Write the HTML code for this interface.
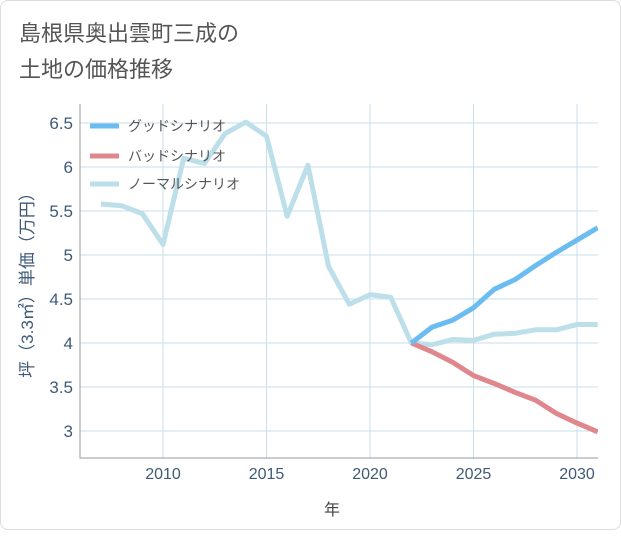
<!DOCTYPE html>
<html><head><meta charset="utf-8"><style>
body{margin:0;background:#fff;font-family:"Liberation Sans","Noto Sans CJK JP",sans-serif}
#card{position:absolute;left:0;top:0;width:619px;height:528px;border:1px solid #ddd;border-radius:8px;background:#fff}
</style></head><body>
<div id="card">
<svg id="chart" width="621" height="530">
<text x="18" y="40" font-size="22" fill="#555">島根県奥出雲町三成の</text>
<text x="18" y="76" font-size="22" fill="#555">土地の価格推移</text>
<g id="grid"></g><g id="series"></g><g id="legend"></g>
<text x="331" y="514" font-size="16" fill="#444" text-anchor="middle">年</text>
<text transform="translate(32,280) rotate(-90)" font-size="17" fill="#3f5a78" text-anchor="middle">坪（3.3㎡）単価（万円）</text>
</svg></div>
<script>
const years=[2007,2008,2009,2010,2011,2012,2013,2014,2015,2016,2017,2018,2019,2020,2021,2022,2023,2024,2025,2026,2027,2028,2029,2030,2031];
const normal=[5.58,5.56,5.47,5.12,6.1,6.04,6.38,6.51,6.35,5.44,6.02,4.87,4.44,4.55,4.52,4.0,3.98,4.04,4.03,4.1,4.11,4.15,4.15,4.21,4.21];
const futureYears=[2022,2023,2024,2025,2026,2027,2028,2029,2030,2031];
const good=[4.0,4.18,4.26,4.4,4.61,4.72,4.88,5.03,5.17,5.31];
const bad=[4.0,3.9,3.78,3.63,3.54,3.44,3.35,3.2,3.09,2.99];
const xTicks=[2010,2015,2020,2025,2030];
const yTicks=[3,3.5,4,4.5,5,5.5,6,6.5];
const yLabels=["3","3.5","4","4.5","5","5.5","6","6.5"];
const NS="http://www.w3.org/2000/svg";
const L=79,R=597,T=103,B=457;
const X=v=>162+(v-2010)*20.7;
const Y=v=>430-(v-3)*88;
function mk(tag,attrs,parent,txt){const e=document.createElementNS(NS,tag);for(const k in attrs)e.setAttribute(k,attrs[k]);if(txt!==undefined)e.textContent=txt;parent.appendChild(e);return e;}
const g=document.getElementById('grid');
xTicks.forEach(t=>{
 const l=mk('line',{x1:X(t),x2:X(t),y1:T,y2:B,stroke:'#c9dfeb','stroke-width':1},g);
 
 
 const tx=mk('text',{x:X(t),y:478,'font-size':16,fill:'#3f5a78','text-anchor':'middle'},g,String(t));
 
 
});
yTicks.forEach((t,i)=>{
 const l=mk('line',{x1:L,x2:R,y1:Y(t),y2:Y(t),stroke:'#c9dfeb','stroke-width':1},g);
 
 
 const tx=mk('text',{x:72,y:Y(t)+6,'font-size':17,fill:'#3f5a78','text-anchor':'end'},g,yLabels[i]);
 
 
});
const ax=mk('path',{d:`M${L},${T}V${B}H${R}`,fill:'none',stroke:'#999','stroke-width':1},g);


const s=document.getElementById('series');
function line(xs,ys,color,name){
 const p=mk('polyline',{points:xs.map((x,i)=>X(x)+','+Y(ys[i])).join(' '),fill:'none',stroke:color,'stroke-width':5,'stroke-linejoin':'round'},s);
 
 
}
const clip=mk('clipPath',{id:'c'},document.getElementById('chart'));
mk('rect',{x:L,y:T,width:R-L,height:B-T},clip);
s.setAttribute('clip-path','url(#c)');
line(years,normal,'#bcdfea','normal-scenario-line');
line(futureYears,bad,'#e0878e','bad-scenario-line');
line(futureYears,good,'#6bbcf0','good-scenario-line');
const lg=document.getElementById('legend');
[['グッドシナリオ','#6bbcf0',125,'legend-good'],['バッドシナリオ','#e0878e',155,'legend-bad'],['ノーマルシナリオ','#bcdfea',183,'legend-normal']].forEach(e=>{
 const gg=mk('g',{},lg);
 
 
 mk('line',{x1:89,x2:118,y1:e[2],y2:e[2],stroke:e[1],'stroke-width':5},gg);
 mk('text',{x:127,y:e[2]+5,'font-size':14,fill:'#555'},gg,e[0]);
});
</script></body></html>
